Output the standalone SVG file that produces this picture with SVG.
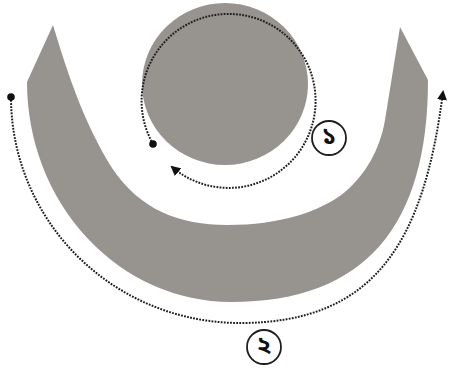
<svg xmlns="http://www.w3.org/2000/svg" width="449" height="376" viewBox="0 0 449 376">
<style>
.shape{fill:#97938f;stroke:none}
.dot{fill:none;stroke:#1e1e1e;stroke-width:2;stroke-dasharray:1.8 1.3}
.start{fill:#111}
.badge{fill:#fff;stroke:#1e1e1e;stroke-width:1.8}
.lbl{font-family:"Noto Sans Bengali","Lohit Bengali","FreeSerif","Noto Sans",sans-serif;font-size:24px;font-weight:bold;fill:#111;text-anchor:middle;dominant-baseline:central}
</style>
<defs>
<marker id="ah" viewBox="0 0 10 10" refX="8" refY="5" markerWidth="10" markerHeight="10" markerUnits="userSpaceOnUse" orient="auto">
<path d="M0 0 L10 5 L0 10 Z" fill="#111"/>
</marker>
</defs>
<g id="u-shape">
<path class="shape" d="M53 25 C68 75 85 125 112 168 C140 210 180 225 227 225 C280 225 320 212 345 192 C365 175 380 150 385 120 L400 27 L428 80 C428 225 366 302 231 302 A204 220 0 0 1 27 82 Z"/>
</g>
<g id="disc">
<ellipse class="shape" cx="225" cy="84" rx="83" ry="81"/>
</g>
<g id="connectors">
<path class="dot" d="M153 144 A87 87 0 1 1 172 167" marker-end="url(#ah)"/>
<circle class="start" cx="153" cy="144" r="3.8"/>
<path class="dot" d="M11 97 A229 226 0 0 0 240 323 C375 323 424 242 443 92" marker-end="url(#ah)"/>
<circle class="start" cx="11" cy="97" r="3.8"/>
</g>
<g id="label-1">
<circle class="badge" cx="329" cy="138" r="17"/>
<text class="lbl" x="329" y="138">১</text>
</g>
<g id="label-2">
<circle class="badge" cx="264" cy="347" r="17"/>
<text class="lbl" x="264" y="347">২</text>
</g>
</svg>
